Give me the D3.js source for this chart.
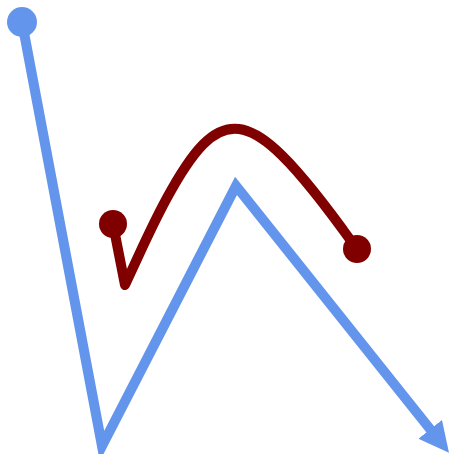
<!DOCTYPE html>
<html>
<head>
<meta charset="utf-8">
<script src="https://cdn.jsdelivr.net/npm/d3@7"></script>
<style>
  body { margin: 0; background: #fff; }
  svg { display: block; }
</style>
</head>
<body>
<div id="chart"></div>
<script>
// points, in picture units
var blueX = [22, 102, 236, 434],
    blueY = [22, 446, 186, 434];

// red: short straight leg, then a smoothed hump (middle points are spline controls)
var redLegX = [113, 125],
    redLegY = [224, 285];
var redHumpX = [125, 205, 273, 357],
    redHumpY = [285, 112, 134, 249];

var width = 451,
    height = 454;

var x = d3.scaleLinear().domain([0, 451]).range([0, width]),
    y = d3.scaleLinear().domain([0, 454]).range([0, height]);

var svg = d3.select("#chart").append("svg")
    .attr("width", width)
    .attr("height", height);

svg.append("defs").append("marker")
    .attr("id", "arrow")
    .attr("markerUnits", "userSpaceOnUse")
    .attr("viewBox", "0 -5 10 10")
    .attr("refX", 2)
    .attr("refY", 0)
    .attr("markerWidth", 30)
    .attr("markerHeight", 30)
    .attr("orient", "auto")
  .append("path")
    .attr("d", "M0,-5L10,0L0,5Z")
    .attr("fill", "cornflowerblue");

var zip = function(xs, ys) {
    return xs.map(function(d, i) { return [d, ys[i]]; });
};

var lineLinear = d3.line()
    .x(function(d) { return x(d[0]); })
    .y(function(d) { return y(d[1]); });

var lineBasis = d3.line()
    .curve(d3.curveBasis)
    .x(function(d) { return x(d[0]); })
    .y(function(d) { return y(d[1]); });

var bluePts = zip(blueX, blueY);

svg.append("path")
    .attr("d", lineLinear(bluePts))
    .attr("fill", "none")
    .attr("stroke", "cornflowerblue")
    .attr("stroke-width", 10)
    .attr("marker-end", "url(#arrow)");

svg.append("circle")
    .attr("cx", x(bluePts[0][0]))
    .attr("cy", y(bluePts[0][1]))
    .attr("r", 15)
    .attr("fill", "cornflowerblue");

var legPts = zip(redLegX, redLegY),
    humpPts = zip(redHumpX, redHumpY);

// join both pieces into one path so the corner gets a proper join
var redD = lineLinear(legPts) + lineBasis(humpPts).replace(/^M[^LC]*/, "");

svg.append("path")
    .attr("d", redD)
    .attr("fill", "none")
    .attr("stroke", "maroon")
    .attr("stroke-width", 10)
    .attr("stroke-linejoin", "round");

svg.selectAll(".red-dot")
    .data([legPts[0], humpPts[humpPts.length - 1]])
  .enter().append("circle")
    .attr("class", "red-dot")
    .attr("cx", function(d) { return x(d[0]); })
    .attr("cy", function(d) { return y(d[1]); })
    .attr("r", 14)
    .attr("fill", "maroon");
</script>
</body>
</html>
